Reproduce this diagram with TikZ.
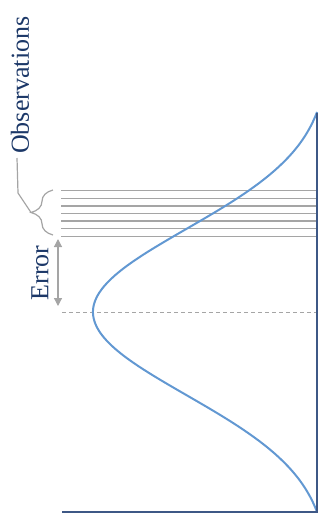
\documentclass[tikz,border=0pt]{standalone}
\usepackage{fontspec}
\setmainfont{Liberation Serif}
\usetikzlibrary{arrows.meta,decorations.pathreplacing}
\definecolor{axisblue}{RGB}{62,88,134}
\definecolor{curveblue}{RGB}{98,152,210}
\definecolor{textnavy}{RGB}{28,56,104}
\definecolor{obsgray}{RGB}{165,165,165}
\begin{document}
\begin{tikzpicture}[x=1pt,y=-1pt,
  axis/.style={draw=axisblue,line width=2.4pt},
  curve/.style={draw=curveblue,line width=2pt},
  obsline/.style={draw=obsgray,line width=1.3pt},
  guide/.style={draw=obsgray,line width=1.2pt},
  label/.style={text=textnavy,font=\fontsize{26}{28}\selectfont,rotate=90,inner sep=0pt}]
\useasboundingbox (0,0) rectangle (321,531);
% axes
\coordinate (top) at (317,113);
\coordinate (corner) at (317,512);
\coordinate (left) at (62,512);
% observation lines
\foreach \yy in {190.7,198.3,205.9,213.5,221.1,228.7,236.3}{
  \draw[obsline] (61,\yy) -- (317,\yy);
}
% mean dashed line
\coordinate (mL) at (62,312);
\coordinate (mR) at (317,312);
\draw[obsgray,line width=1pt,dash pattern=on 4pt off 3pt] (mL) -- (mR);
% curve
\draw[curve] plot[domain=-2.4096:2.4096,samples=160,smooth,variable=\u]
  ({317-224*(exp(-0.5*\u*\u)-0.0549)/(1-0.0549)},{312+83*\u});
\draw[axis] (left) -- (corner) -- (top);
% brace
\coordinate (bB) at (53,235);
\coordinate (bT) at (53,190);
\draw[guide,decorate,decoration={brace,amplitude=22pt,aspect=0.5}] (bB) -- (bT);
\coordinate (tip) at (31,212.5);
\coordinate (k1) at (18,193);
\coordinate (k2) at (17,158);
\draw[guide] (tip) -- (k1) -- (k2);
\node[label,anchor=west] (obs) at (20,154) {Observations};
% error
\coordinate (eT) at (58,239);
\coordinate (eB) at (58,306);
\draw[guide,{Triangle[length=8pt,width=8pt]}-{Triangle[length=8pt,width=8pt]}] (eT) -- (eB);
\node[label] (err) at (40,273) {Error};
\end{tikzpicture}
\end{document}
